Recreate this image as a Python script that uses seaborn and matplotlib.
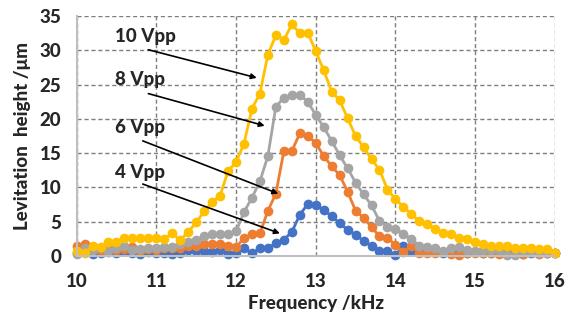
import numpy as np
import pandas as pd
import matplotlib
matplotlib.use("Agg")
import matplotlib.pyplot as plt
import seaborn as sns

# frequency sweep (kHz)
freq = [10.0, 10.1, 10.2, 10.3, 10.4, 10.5, 10.6, 10.7, 10.8, 10.9,
        11.0, 11.1, 11.2, 11.3, 11.4, 11.5, 11.6, 11.7, 11.8, 11.9,
        12.0, 12.1, 12.2, 12.3, 12.4, 12.5, 12.6, 12.7, 12.8, 12.9,
        13.0, 13.1, 13.2, 13.3, 13.4, 13.5, 13.6, 13.7, 13.8, 13.9,
        14.0, 14.1, 14.2, 14.3, 14.4, 14.5, 14.6, 14.7, 14.8, 14.9,
        15.0, 15.1, 15.2, 15.3, 15.4, 15.5, 15.6, 15.7, 15.8, 15.9,
        16.0]

# levitation height (um) for each drive voltage
h_4vpp = [0.4, 0.6, 0.3, 0.5, 0.6, 0.4, 0.8, 0.5, 0.3, 0.6,
          0.5, 0.4, 0.3, 0.5, 0.9, 0.7, 0.8, 0.6, 0.9, 0.3,
          0.4, 1.1, 0.4, 1.1, 1.1, 1.9, 2.4, 3.5, 6.0, 7.6,
          7.4, 6.7, 5.8, 4.8, 3.8, 3.1, 2.2, 1.5, 0.7, 0.7,
          0.2, 1.4, 0.8, 0.6, 0.6, 0.6, 0.5, 0.5, 0.6, 0.5,
          0.6, 0.5, 0.4, 0.5, 0.5, 0.6, 0.3, 0.5, 0.4, 0.5,
          0.5]
h_6vpp = [1.4, 1.8, 1.0, 0.8, 1.2, 0.9, 1.0, 1.3, 0.8, 1.0,
          0.9, 1.2, 1.1, 1.1, 1.4, 1.5, 1.7, 1.8, 1.8, 1.5,
          1.3, 2.6, 3.2, 3.3, 6.6, 9.1, 15.3, 15.3, 17.9, 17.5,
          16.5, 14.6, 13.1, 11.8, 9.4, 6.6, 5.6, 4.2, 2.9, 2.7,
          1.6, 0.6, 1.4, 0.5, 0.5, 0.5, 0.6, 0.3, 0.2, 0.4,
          0.5, 0.4, 0.5, 0.3, 0.4, 0.3, 0.3, 0.6, 0.3, 0.4,
          0.4]
h_8vpp = [0.3, 1.2, 0.9, 1.1, 0.8, 1.1, 1.4, 0.9, 1.0, 1.1,
          1.1, 1.3, 1.3, 1.7, 2.1, 2.4, 2.9, 3.2, 3.2, 3.2,
          3.6, 6.4, 8.5, 10.9, 14.6, 21.8, 23.1, 23.5, 23.5, 22.5,
          20.6, 18.8, 16.8, 14.7, 12.8, 10.7, 9.0, 7.4, 5.1, 4.3,
          4.0, 3.2, 2.5, 1.5, 1.3, 1.2, 0.8, 1.2, 1.3, 0.9,
          0.8, 0.9, 0.9, 0.9, 0.1, 0.2, 0.6, 0.6, 0.5, 0.4,
          0.5]
h_10vpp = [0.8, 0.5, 1.4, 1.3, 2.0, 2.0, 2.7, 2.6, 2.6, 2.6,
           2.6, 2.5, 3.3, 2.3, 3.5, 4.9, 6.5, 7.9, 8.8, 12.4,
           13.7, 16.4, 21.5, 23.7, 29.4, 32.2, 31.5, 33.8, 32.5, 32.6,
           29.9, 27.1, 24.0, 22.7, 20.1, 17.5, 15.9, 14.1, 12.6, 9.7,
           8.3, 7.2, 6.1, 5.1, 4.6, 4.0, 3.4, 3.2, 2.7, 2.5,
           2.1, 1.7, 1.5, 1.4, 1.4, 1.1, 1.1, 1.1, 1.0, 1.0,
           0.5]

series = ["4 Vpp", "6 Vpp", "8 Vpp", "10 Vpp"]
colors = ["#4472C4", "#ED7D31", "#A5A5A5", "#FFC000"]

df = pd.concat([
    pd.DataFrame({"freq": freq, "height": h, "V": name})
    for name, h in zip(series, [h_4vpp, h_6vpp, h_8vpp, h_10vpp])
])

sns.set_style("white")
plt.rcParams["font.family"] = ["Lato", "DejaVu Sans"]

W = 900  # heavy text like the original

fig = plt.figure(figsize=(5.65, 3.23), dpi=100)
ax = fig.add_axes([0.1356, 0.2074, 0.8464, 0.7426])

sns.lineplot(data=df, x="freq", y="height", hue="V", hue_order=series,
             palette=colors, marker="o", markersize=7, markeredgewidth=0,
             linewidth=2, legend=False, ax=ax)
for ln in ax.lines:
    ln.set_clip_on(False)

ax.set_xlim(10, 16)
ax.set_ylim(0, 35)
ax.set_xticks([10, 11, 12, 13, 14, 15, 16])
ax.set_yticks([0, 5, 10, 15, 20, 25, 30, 35])
ax.grid(True, linestyle=(0, (3, 2)), color="#7f7f7f", linewidth=1.0)
ax.set_axisbelow(True)
for s in ["top", "right"]:
    ax.spines[s].set_visible(False)
for s in ["left", "bottom"]:
    ax.spines[s].set_color("#bfbfbf")
    ax.spines[s].set_linewidth(1.5)
ax.tick_params(axis="both", length=0, labelsize=13.5)
ax.tick_params(axis="x", pad=12)
ax.tick_params(axis="y", pad=11)
for lab in ax.get_xticklabels() + ax.get_yticklabels():
    lab.set_fontweight(W)

ax.set_xlabel("Frequency /kHz", fontsize=13.5, fontweight=W, labelpad=4)
ax.set_ylabel("Levitation  height /\u03bcm", fontsize=13.5, fontweight=W, labelpad=6)

# labels with arrows
label_y = [12.2, 18.8, 25.8, 32.1]
arrow_start = [(10.83, 10.5), (10.83, 16.8), (10.90, 23.7), (10.90, 30.1)]
arrow_end = [(12.55, 3.3), (12.53, 9.1), (12.36, 19.0), (12.26, 26.0)]
for name, ly, st, en in zip(series, label_y, arrow_start, arrow_end):
    ax.text(10.48, ly, name, fontsize=13.5, fontweight=W, va="center", ha="left")
    ax.annotate("", xy=en, xytext=st,
                arrowprops=dict(arrowstyle="-|>", color="black", lw=1.2,
                                mutation_scale=8, shrinkA=0, shrinkB=0))

fig.savefig("out.png", dpi=100)
